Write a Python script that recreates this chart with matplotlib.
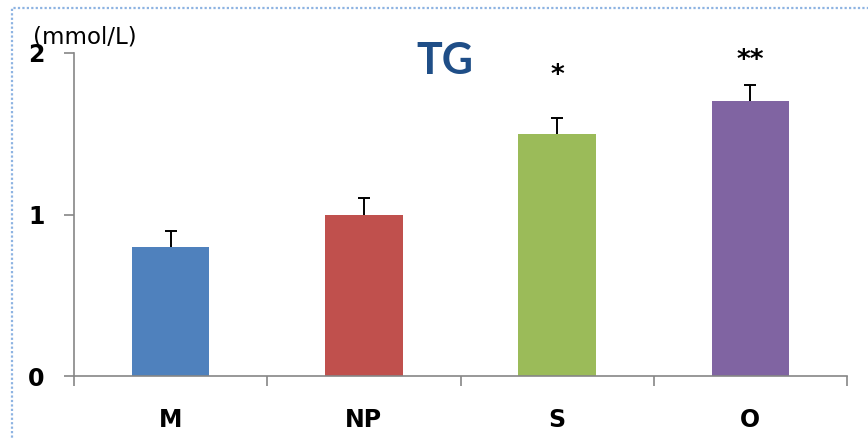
import matplotlib
matplotlib.use("Agg")
import matplotlib.pyplot as plt
from matplotlib.patches import Rectangle

# Triglyceride levels per group (mmol/L)
groups = ["M", "NP", "S", "O"]
tg_mean = [0.8, 1.0, 1.5, 1.7]
tg_err = [0.1, 0.1, 0.1, 0.1]
significance = ["", "", "*", "**"]
bar_colors = ["#4F81BD", "#C0504D", "#9BBB59", "#8064A2"]
y_ticks = [0, 1, 2]

W, H = 868, 438
fig = plt.figure(figsize=(W / 100, H / 100), dpi=100)
fig.patch.set_facecolor("white")

ax = fig.add_axes([74 / W, 1 - 376 / H, (847 - 74) / W, (376 - 53) / H])

x = list(range(len(groups)))
ax.bar(x, tg_mean, width=0.4, color=bar_colors, zorder=2)

# upper-only error bars with a cap at the top
tops = [m + e for m, e in zip(tg_mean, tg_err)]
ax.vlines(x, tg_mean, tops, colors="black", linewidth=1.4, zorder=3)
ax.plot(x, tops, linestyle="none", marker="_", markersize=9,
        markeredgewidth=1.4, color="black", zorder=3)

# significance marks above the error bars
star_y = {2: 1.86, 3: 1.95}
for i, mark in enumerate(significance):
    if mark:
        ax.text(i, star_y[i], mark, ha="center", va="center",
                fontsize=19, fontweight="bold", family="DejaVu Sans")

ax.set_xlim(-0.5, len(groups) - 0.5)
ax.set_ylim(0, 2)

spine_c = "#868686"
for side in ("top", "right"):
    ax.spines[side].set_visible(False)
for side in ("left", "bottom"):
    ax.spines[side].set_color(spine_c)
    ax.spines[side].set_linewidth(1.2)

ax.set_yticks(y_ticks)
ax.set_yticklabels([str(t) for t in y_ticks])
ax.tick_params(axis="y", direction="out", length=7, width=1.2, color=spine_c,
               pad=14, labelsize=17)
for lbl in ax.get_yticklabels():
    lbl.set_fontweight("bold")

ax.set_xticks(x)
ax.set_xticklabels(groups)
ax.set_xticks([i - 0.5 for i in range(len(groups) + 1)], minor=True)
ax.tick_params(axis="x", which="major", length=0, pad=23, labelsize=17)
ax.tick_params(axis="x", which="minor", direction="out", length=7,
               width=1.2, color=spine_c)
for lbl in ax.get_xticklabels():
    lbl.set_fontweight("bold")

fig.text(445 / W, 1 - 61 / H, "TG", ha="center", va="center",
         fontsize=31, fontweight="bold", color="#1F4E87", family="Lato")
fig.text(33 / W, 1 - 37 / H, "(mmol/L)", ha="left", va="center",
         fontsize=16.5, family="DejaVu Sans")

# dotted frame around the chart area
fig.add_artist(Rectangle((12 / W, -0.1), 1.2, 1 - 8 / H + 0.1,
                         transform=fig.transFigure, fill=False,
                         edgecolor="#8DB3E2", linestyle=(0, (1, 1)),
                         linewidth=1.6, clip_on=False))

fig.savefig("out.png", dpi=100)
